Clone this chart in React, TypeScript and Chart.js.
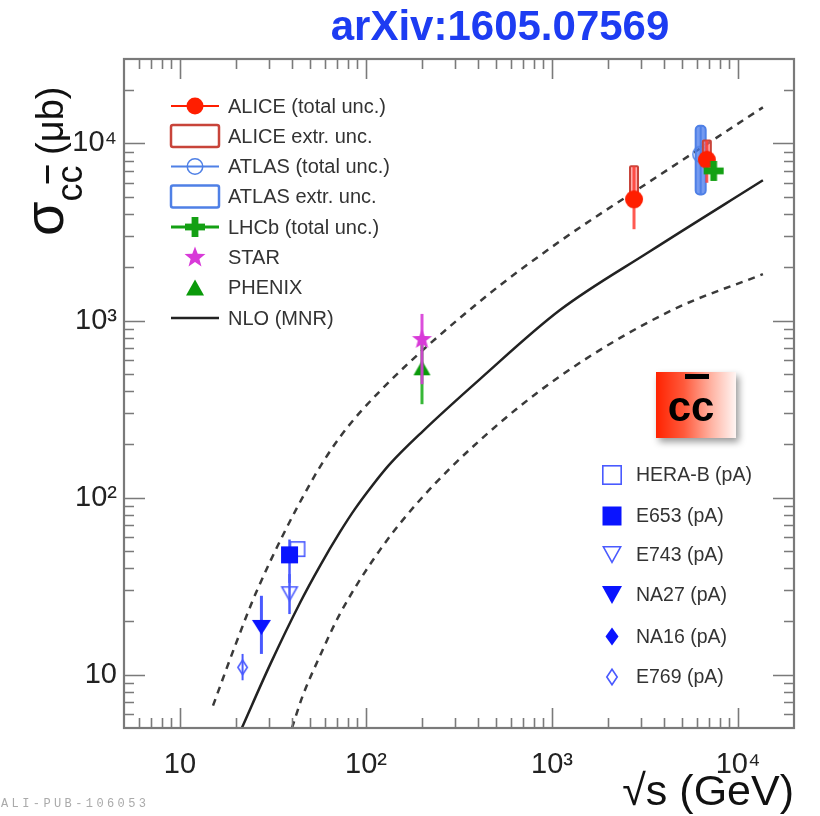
import React, { useEffect, useRef } from 'react';
import { Chart, registerables } from 'chart.js';

Chart.register(...registerables);

// ---------- axis ticks ----------
const xTickValues = [10, 100, 1000, 10000];
const xTickLabels = ['10', '10²', '10³', '10⁴'];
const yTickValues = [10, 100, 1000, 10000];
const yTickLabels = ['10', '10²', '10³', '10⁴'];

// ---------- NLO (MNR) curves ----------
const nloX = [21.5, 30.5, 44.2, 56.6, 72.5, 87.3, 107.7, 134.6, 202.5, 410, 1104, 3365, 13610];
const nloY = [5, 11.4, 25.5, 41.2, 64, 86.4, 116.4, 155, 237.7, 467, 1146, 2461, 6195];
const nloUpX = [15.05, 19.8, 25.9, 50, 72.5, 119, 410, 1104, 3365, 13610];
const nloUpY = [6.69, 14.6, 29.8, 119.5, 220, 400, 1285, 2805, 6110, 16000];
const nloLoX = [40, 45.3, 56.6, 72.5, 119, 195, 410, 1104, 4305, 13610];
const nloLoY = [5, 7.42, 12.8, 22.1, 50.7, 97, 211, 485, 1130, 1828];

// ---------- collider data ----------
const aliceX = [2760, 6800];
const aliceY = [4840, 8100];
const aliceLo = [3280, 6000];
const aliceHi = [7430, 10400];
const aliceExtrLo = [4400, 7600];
const aliceExtrHi = [7430, 10400];

const atlasX = [6300];
const atlasY = [8700];
const atlasLo = [5150];
const atlasHi = [12600];
const atlasExtrLo = [5150];
const atlasExtrHi = [12600];

const lhcbX = [7400];
const lhcbY = [7000];
const lhcbLo = [6400];
const lhcbHi = [7600];

const starX = [200];
const starY = [782];
const starLo = [437];
const starHi = [1090];

const phenixX = [200];
const phenixY = [541];
const phenixLo = [337];
const phenixHi = [780];

// ---------- fixed-target pA data ----------
const herabX = [42.8];
const herabY = [51.2];
const e653X = [38.8];
const e653Y = [47.5];
const e653Lo = [33];
const e653Hi = [58];
const e743X = [38.8];
const e743Y = [28.5];
const e743Lo = [22];
const e743Hi = [37];
const na27X = [27.4];
const na27Y = [18.5];
const na27Lo = [13.1];
const na27Hi = [27.9];
const e769X = [21.7];
const e769Y = [11.0];
const e769Lo = [9.3];
const e769Hi = [13.1];

// ---------- legends ----------
const legend1Labels = [
  'ALICE (total unc.)',
  'ALICE extr. unc.',
  'ATLAS (total unc.)',
  'ATLAS extr. unc.',
  'LHCb (total unc.)',
  'STAR',
  'PHENIX',
  'NLO (MNR)',
];
const legend2Labels = ['HERA-B (pA)', 'E653 (pA)', 'E743 (pA)', 'NA27 (pA)', 'NA16 (pA)', 'E769 (pA)'];

// ---------- colours ----------
const RED = '#ff1e00';
const ALICE_BOX_STROKE = '#c8443a';
const ALICE_BOX_FILL = 'rgba(255,120,120,0.6)';
const ATLAS_BLUE = '#4f80e6';
const ATLAS_BOX_FILL = 'rgba(70,120,235,0.75)';
const LHCB_GREEN = '#14a014';
const STAR_MAG = '#d83ad8';
const PHENIX_GREEN = '#0a9a0a';
const FT_BLUE = '#0a14ff';
const FT_OPEN = '#4a5aff';
const FRAME = '#7a7a7a';
const FONT = '"Liberation Sans", Arial, Helvetica, sans-serif';

function starPath(ctx: CanvasRenderingContext2D, cx: number, cy: number, R: number) {
  const r = R * 0.42;
  ctx.beginPath();
  for (let i = 0; i < 10; i++) {
    const ang = -Math.PI / 2 + (i * Math.PI) / 5;
    const rr = i % 2 === 0 ? R : r;
    const px = cx + rr * Math.cos(ang);
    const py = cy + rr * Math.sin(ang);
    if (i === 0) ctx.moveTo(px, py);
    else ctx.lineTo(px, py);
  }
  ctx.closePath();
}

function drawSymbol(
  ctx: CanvasRenderingContext2D,
  kind: string,
  x: number,
  y: number,
  w: number,
  h: number,
  color: string,
  lw = 1.6
) {
  ctx.save();
  ctx.fillStyle = color;
  ctx.strokeStyle = color;
  ctx.lineWidth = lw;
  ctx.lineJoin = 'miter';
  const i = lw / 2;
  switch (kind) {
    case 'circle':
      ctx.beginPath();
      ctx.arc(x, y, w / 2, 0, Math.PI * 2);
      ctx.fill();
      break;
    case 'ocircle':
      ctx.beginPath();
      ctx.arc(x, y, w / 2 - i, 0, Math.PI * 2);
      ctx.stroke();
      break;
    case 'square':
      ctx.fillRect(x - w / 2, y - h / 2, w, h);
      break;
    case 'osquare':
      ctx.strokeRect(x - w / 2 + i, y - h / 2 + i, w - lw, h - lw);
      break;
    case 'tridown':
      ctx.beginPath();
      ctx.moveTo(x - w / 2, y - h / 2);
      ctx.lineTo(x + w / 2, y - h / 2);
      ctx.lineTo(x, y + h / 2);
      ctx.closePath();
      ctx.fill();
      break;
    case 'otridown':
      ctx.beginPath();
      ctx.moveTo(x - w / 2 + i * 1.7, y - h / 2 + i);
      ctx.lineTo(x + w / 2 - i * 1.7, y - h / 2 + i);
      ctx.lineTo(x, y + h / 2 - i * 2);
      ctx.closePath();
      ctx.stroke();
      break;
    case 'triup':
      ctx.beginPath();
      ctx.moveTo(x, y - h / 2);
      ctx.lineTo(x + w / 2, y + h / 2);
      ctx.lineTo(x - w / 2, y + h / 2);
      ctx.closePath();
      ctx.fill();
      break;
    case 'diamond':
      ctx.beginPath();
      ctx.moveTo(x, y - h / 2);
      ctx.lineTo(x + w / 2, y);
      ctx.lineTo(x, y + h / 2);
      ctx.lineTo(x - w / 2, y);
      ctx.closePath();
      ctx.fill();
      break;
    case 'odiamond':
      ctx.beginPath();
      ctx.moveTo(x, y - h / 2 + i * 1.5);
      ctx.lineTo(x + w / 2 - i, y);
      ctx.lineTo(x, y + h / 2 - i * 1.5);
      ctx.lineTo(x - w / 2 + i, y);
      ctx.closePath();
      ctx.stroke();
      break;
    case 'star':
      starPath(ctx, x, y, w / 2);
      ctx.fill();
      break;
    case 'cross': {
      const t = w * 0.34;
      ctx.fillRect(x - w / 2, y - t / 2, w, t);
      ctx.fillRect(x - t / 2, y - h / 2, t, h);
      break;
    }
  }
  ctx.restore();
}

function makeMarker(kind: string, w: number, h: number, color: string, lw = 1.6) {
  const c = document.createElement('canvas');
  c.width = Math.ceil(w) + 4;
  c.height = Math.ceil(h) + 4;
  const ctx = c.getContext('2d')!;
  drawSymbol(ctx, kind, c.width / 2, c.height / 2, w, h, color, lw);
  return c;
}

const toPts = (xs: number[], ys: number[]) => xs.map((x, i) => ({ x, y: ys[i] }));

const errorPlugin = {
  id: 'errorBars',
  beforeDatasetDraw(chart: any, args: any) {
    const ds: any = chart.data.datasets[args.index];
    if (!ds.errLo && !ds.boxLo) return;
    const xs = chart.scales.x;
    const ys = chart.scales.y;
    const a = chart.chartArea;
    const ctx: CanvasRenderingContext2D = chart.ctx;
    ctx.save();
    ctx.beginPath();
    ctx.rect(a.left, a.top, a.right - a.left, a.bottom - a.top);
    ctx.clip();
    ds.data.forEach((p: any, i: number) => {
      const px = xs.getPixelForValue(p.x);
      if (ds.boxLo) {
        const y1 = ys.getPixelForValue(ds.boxHi[i]);
        const y2 = ys.getPixelForValue(ds.boxLo[i]);
        const hw = ds.boxHalfWidth;
        ctx.fillStyle = ds.boxFill;
        ctx.strokeStyle = ds.boxStroke;
        ctx.lineWidth = 2;
        ctx.beginPath();
        if ((ctx as any).roundRect) (ctx as any).roundRect(px - hw, y1, hw * 2, y2 - y1, ds.boxRound || 0);
        else ctx.rect(px - hw, y1, hw * 2, y2 - y1);
        ctx.fill();
        ctx.stroke();
      }
      if (ds.errLo) {
        const y1 = ys.getPixelForValue(ds.errHi[i]);
        const y2 = ys.getPixelForValue(ds.errLo[i]);
        ctx.strokeStyle = ds.errColor;
        ctx.lineWidth = ds.errWidth || 2.5;
        ctx.beginPath();
        ctx.moveTo(px, y1);
        ctx.lineTo(px, y2);
        ctx.stroke();
      }
    });
    ctx.restore();
  },
};

const framePlugin = {
  id: 'rootFrame',
  afterDraw(chart: any) {
    const ctx: CanvasRenderingContext2D = chart.ctx;
    const a = chart.chartArea;
    const xs = chart.scales.x;
    const ys = chart.scales.y;
    ctx.save();
    // inward ticks (ROOT style)
    ctx.strokeStyle = FRAME;
    ctx.lineWidth = 1.6;
    const decades = [1, 10, 100, 1000, 10000];
    decades.forEach((d) => {
      for (let m = 1; m <= 9; m++) {
        const v = d * m;
        if (v > xs.min && v < xs.max) {
          const px = Math.round(xs.getPixelForValue(v)) + 0.5;
          const len = m === 1 ? 20 : 10;
          ctx.beginPath();
          ctx.moveTo(px, a.bottom);
          ctx.lineTo(px, a.bottom - len);
          ctx.moveTo(px, a.top);
          ctx.lineTo(px, a.top + len);
          ctx.stroke();
        }
        if (v > ys.min && v < ys.max) {
          const py = Math.round(ys.getPixelForValue(v)) + 0.5;
          const len = m === 1 ? 21 : 10;
          ctx.beginPath();
          ctx.moveTo(a.left, py);
          ctx.lineTo(a.left + len, py);
          ctx.moveTo(a.right, py);
          ctx.lineTo(a.right - len, py);
          ctx.stroke();
        }
      }
    });
    ctx.lineWidth = 2.2;
    ctx.strokeRect(a.left, a.top, a.right - a.left, a.bottom - a.top);

    // legend 1
    const mx = 195;
    const tx = 228;
    const rows1 = [106, 136, 166.5, 196.5, 227, 257.5, 287.5, 318];
    ctx.font = '20px ' + FONT;
    ctx.fillStyle = '#333';
    ctx.textBaseline = 'middle';
    ctx.textAlign = 'left';
    legend1Labels.forEach((t, i) => ctx.fillText(t, tx, rows1[i] + 1));
    const seg = (y: number, color: string, w: number) => {
      ctx.save();
      ctx.strokeStyle = color;
      ctx.lineWidth = w;
      ctx.beginPath();
      ctx.moveTo(171, y);
      ctx.lineTo(219, y);
      ctx.stroke();
      ctx.restore();
    };
    const box = (y: number, stroke: string) => {
      ctx.save();
      ctx.strokeStyle = stroke;
      ctx.lineWidth = 2.5;
      ctx.fillStyle = 'rgba(255,255,255,0.9)';
      ctx.beginPath();
      if ((ctx as any).roundRect) (ctx as any).roundRect(171, y - 11, 48, 22, 2);
      else ctx.rect(171, y - 11, 48, 22);
      ctx.fill();
      ctx.stroke();
      ctx.restore();
    };
    seg(rows1[0], RED, 2);
    drawSymbol(ctx, 'circle', mx, rows1[0], 17, 17, RED);
    box(rows1[1], ALICE_BOX_STROKE);
    seg(rows1[2], ATLAS_BLUE, 2);
    drawSymbol(ctx, 'ocircle', mx, rows1[2], 17, 17, ATLAS_BLUE, 1.5);
    box(rows1[3], ATLAS_BLUE);
    seg(rows1[4], LHCB_GREEN, 3);
    drawSymbol(ctx, 'cross', mx, rows1[4], 20, 20, LHCB_GREEN);
    drawSymbol(ctx, 'star', mx, rows1[5], 22, 22, STAR_MAG);
    drawSymbol(ctx, 'triup', mx, rows1[6], 18, 16, PHENIX_GREEN);
    seg(rows1[7], '#222', 2.5);

    // legend 2
    const mx2 = 612;
    const tx2 = 636;
    const rows2 = [475, 516, 555, 595, 636.5, 677];
    ctx.font = '19.5px ' + FONT;
    ctx.fillStyle = '#333';
    legend2Labels.forEach((t, i) => ctx.fillText(t, tx2, rows2[i] + 1));
    drawSymbol(ctx, 'osquare', mx2, rows2[0], 20, 20, FT_OPEN, 1.6);
    drawSymbol(ctx, 'square', mx2, rows2[1], 19, 19, FT_BLUE);
    drawSymbol(ctx, 'otridown', mx2, rows2[2], 20, 18, FT_OPEN, 1.6);
    drawSymbol(ctx, 'tridown', mx2, rows2[3], 20, 18, FT_BLUE);
    drawSymbol(ctx, 'diamond', mx2, rows2[4], 13, 18, FT_BLUE);
    drawSymbol(ctx, 'odiamond', mx2, rows2[5], 12, 18, FT_OPEN, 1.6);
    ctx.restore();
  },
};

export default function App() {
  const ref = useRef<HTMLCanvasElement>(null);

  useEffect(() => {
    const canvas = ref.current;
    if (!canvas) return;

    const curve = (xs: number[], ys: number[], dash: number[], color: string) => ({
      data: toPts(xs, ys),
      showLine: true,
      borderColor: color,
      borderWidth: 2.5,
      borderDash: dash,
      pointRadius: 0,
      pointHoverRadius: 0,
      cubicInterpolationMode: 'monotone',
      fill: false,
      order: 100,
    });

    const points = (xs: number[], ys: number[], style: HTMLCanvasElement, order: number, extra: any = {}) => ({
      data: toPts(xs, ys),
      showLine: false,
      pointStyle: style,
      pointRadius: 6,
      pointHoverRadius: 6,
      order,
      ...extra,
    });

    const chart = new Chart(canvas, {
      type: 'scatter',
      data: {
        datasets: [
          curve(nloX, nloY, [], '#222'),
          curve(nloUpX, nloUpY, [7, 6], '#3a3a3a'),
          curve(nloLoX, nloLoY, [7, 6], '#3a3a3a'),
          points(atlasX, atlasY, makeMarker('ocircle', 17, 17, ATLAS_BLUE, 1.5), 50, {
            errLo: atlasLo,
            errHi: atlasHi,
            errColor: ATLAS_BLUE,
            errWidth: 2,
            boxLo: atlasExtrLo,
            boxHi: atlasExtrHi,
            boxHalfWidth: 5,
            boxFill: ATLAS_BOX_FILL,
            boxStroke: ATLAS_BLUE,
            boxRound: 4,
          }),
          points(aliceX, aliceY, makeMarker('circle', 18, 18, RED), 40, {
            errLo: aliceLo,
            errHi: aliceHi,
            errColor: 'rgba(255,60,50,0.85)',
            errWidth: 3,
            boxLo: aliceExtrLo,
            boxHi: aliceExtrHi,
            boxHalfWidth: 4,
            boxFill: ALICE_BOX_FILL,
            boxStroke: ALICE_BOX_STROKE,
            boxRound: 1,
          }),
          points(lhcbX, lhcbY, makeMarker('cross', 20, 20, LHCB_GREEN), 35, {
            errLo: lhcbLo,
            errHi: lhcbHi,
            errColor: LHCB_GREEN,
            errWidth: 3,
          }),
          points(phenixX, phenixY, makeMarker('triup', 17, 15, PHENIX_GREEN), 30, {
            errLo: phenixLo,
            errHi: phenixHi,
            errColor: 'rgba(20,170,20,0.85)',
            errWidth: 3,
          }),
          points(starX, starY, makeMarker('star', 21, 21, STAR_MAG), 25, {
            errLo: starLo,
            errHi: starHi,
            errColor: 'rgba(215,60,215,0.9)',
            errWidth: 3,
          }),
          points(herabX, herabY, makeMarker('osquare', 16, 16, FT_OPEN, 1.6), 20),
          points(e653X, e653Y, makeMarker('square', 17, 17, FT_BLUE), 15, {
            errLo: e653Lo,
            errHi: e653Hi,
            errColor: FT_OPEN,
            errWidth: 2.5,
          }),
          points(e743X, e743Y, makeMarker('otridown', 18, 16, FT_OPEN, 1.6), 12, {
            errLo: e743Lo,
            errHi: e743Hi,
            errColor: FT_OPEN,
            errWidth: 2.5,
          }),
          points(na27X, na27Y, makeMarker('tridown', 19, 15, FT_BLUE), 10, {
            errLo: na27Lo,
            errHi: na27Hi,
            errColor: FT_OPEN,
            errWidth: 3,
          }),
          points(e769X, e769Y, makeMarker('odiamond', 11, 17, FT_OPEN, 1.6), 5, {
            errLo: e769Lo,
            errHi: e769Hi,
            errColor: FT_OPEN,
            errWidth: 2,
          }),
        ] as any,
      },
      options: {
        responsive: false,
        animation: false,
        devicePixelRatio: 1,
        events: [],
        layout: { padding: { top: 59, right: 26, left: 0, bottom: 0 } },
        plugins: {
          legend: { display: false },
          tooltip: { enabled: false },
        },
        scales: {
          x: {
            type: 'logarithmic',
            min: 5,
            max: 20000,
            grid: { display: false, drawTicks: false },
            border: { display: false },
            afterFit: (s: any) => {
              s.height = 88;
            },
            afterBuildTicks: (s: any) => {
              s.ticks = xTickValues.map((v) => ({ value: v, major: true }));
            },
            ticks: {
              autoSkip: false,
              maxRotation: 0,
              padding: 20,
              color: '#222',
              font: { family: FONT, size: 29 },
              callback: (v: any) => {
                const i = xTickValues.indexOf(Number(v));
                return i >= 0 ? xTickLabels[i] : '';
              },
            },
          },
          y: {
            type: 'logarithmic',
            min: 5,
            max: 30000,
            grid: { display: false, drawTicks: false },
            border: { display: false },
            afterFit: (s: any) => {
              s.width = 124;
            },
            afterBuildTicks: (s: any) => {
              s.ticks = yTickValues.map((v) => ({ value: v, major: true }));
            },
            ticks: {
              autoSkip: false,
              padding: 7,
              color: '#222',
              font: { family: FONT, size: 29 },
              callback: (v: any) => {
                const i = yTickValues.indexOf(Number(v));
                return i >= 0 ? yTickLabels[i] : '';
              },
            },
          },
        },
      } as any,
      plugins: [errorPlugin, framePlugin] as any,
    });

    return () => chart.destroy();
  }, []);

  return (
    <div
      style={{
        position: 'absolute',
        left: 0,
        top: 0,
        width: 820,
        height: 816,
        background: '#fff',
        overflow: 'hidden',
        fontFamily: FONT,
      }}
    >
      <canvas
        ref={ref}
        width={820}
        height={816}
        style={{ position: 'absolute', left: 0, top: 0, width: 820, height: 816 }}
      />
      <div
        style={{
          position: 'absolute',
          left: 500,
          top: 2,
          transform: 'translateX(-50%)',
          fontSize: 42,
          lineHeight: '48px',
          fontWeight: 'bold',
          color: '#1d3cf2',
          whiteSpace: 'nowrap',
        }}
      >
        arXiv:1605.07569
      </div>
      <div
        style={{
          position: 'absolute',
          right: 26,
          top: 764,
          fontSize: 43,
          lineHeight: '52px',
          color: '#111',
          whiteSpace: 'nowrap',
        }}
      >
        √s (GeV)
      </div>
      <div
        style={{
          position: 'absolute',
          left: 18,
          top: 236,
          transformOrigin: '0 0',
          transform: 'rotate(-90deg)',
          whiteSpace: 'nowrap',
          lineHeight: '52px',
          color: '#111',
        }}
      >
        <span style={{ fontSize: 56 }}>σ</span>
        <span style={{ fontSize: 36, position: 'relative', top: 19 }}>
          c<span style={{ textDecoration: 'overline' }}>c</span>
        </span>
        <span style={{ fontSize: 38 }}> (μb)</span>
      </div>
      <div
        style={{
          position: 'absolute',
          left: 1,
          top: 797,
          fontSize: 12,
          fontFamily: '"Liberation Mono", "DejaVu Sans Mono", monospace',
          color: '#aaa',
          letterSpacing: '3.4px',
          whiteSpace: 'nowrap',
        }}
      >
        ALI-PUB-106053
      </div>
      <div
        style={{
          position: 'absolute',
          left: 656,
          top: 372,
          width: 80,
          height: 66,
          background: 'linear-gradient(90deg, #ff2200 0%, #ff5a3c 35%, #ffb5a5 70%, #fff5f3 100%)',
          boxShadow: '3px 4px 7px rgba(0,0,0,0.4)',
        }}
      >
        <div style={{ position: 'absolute', left: 29, top: 2, width: 24, height: 5, background: '#000' }} />
        <div
          style={{
            position: 'absolute',
            left: -5,
            top: 14,
            width: 80,
            textAlign: 'center',
            fontSize: 42,
            lineHeight: '42px',
            fontWeight: 'bold',
            color: '#000',
          }}
        >
          cc
        </div>
      </div>
    </div>
  );
}
